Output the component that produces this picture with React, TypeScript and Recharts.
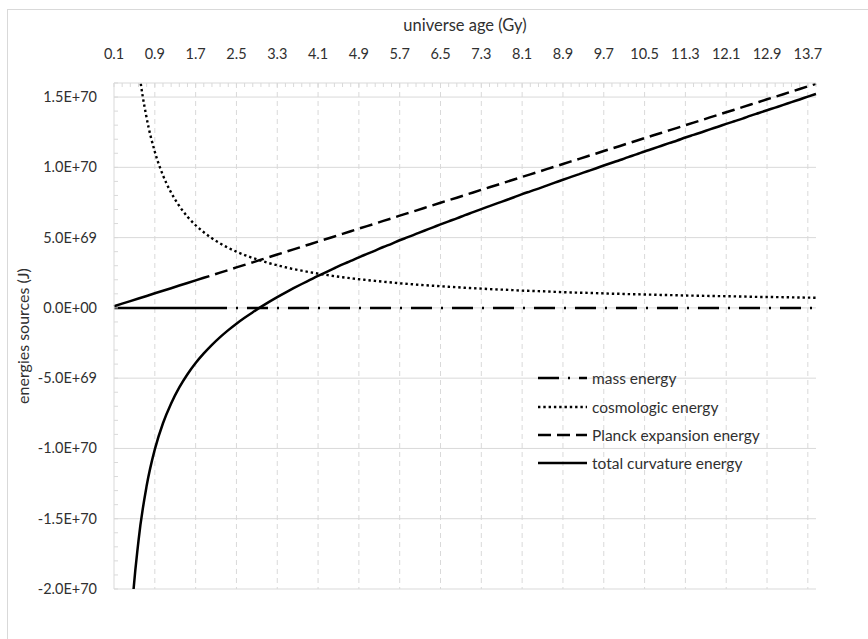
import React from 'react';
import { LineChart, Line, XAxis, YAxis, ReferenceLine } from 'recharts';

// universe age categories (Gy)
const ages = [
    0.1, 0.26, 0.42, 0.58, 0.74, 0.9, 1.06, 1.22, 1.38, 1.54,
    1.7, 1.86, 2.02, 2.18, 2.34, 2.5, 2.66, 2.82, 2.98, 3.14,
    3.3, 3.46, 3.62, 3.78, 3.94, 4.1, 4.26, 4.42, 4.58, 4.74,
    4.9, 5.06, 5.22, 5.38, 5.54, 5.7, 5.86, 6.02, 6.18, 6.34,
    6.5, 6.66, 6.82, 6.98, 7.14, 7.3, 7.46, 7.62, 7.78, 7.94,
    8.1, 8.26, 8.42, 8.58, 8.74, 8.9, 9.06, 9.22, 9.38, 9.54,
    9.7, 9.86, 10.02, 10.18, 10.34, 10.5, 10.66, 10.82, 10.98, 11.14,
    11.3, 11.46, 11.62, 11.78, 11.94, 12.1, 12.26, 12.42, 12.58, 12.74,
    12.9, 13.06, 13.22, 13.38, 13.54, 13.7, 13.86,
];

const ageLabels = [
    '0.1', '0.9', '1.7', '2.5', '3.3', '4.1', '4.9', '5.7', '6.5',
    '7.3', '8.1', '8.9', '9.7', '10.5', '11.3', '12.1', '12.9', '13.7',
];

// energies in units of 1E+69 J
const massEnergy = [
    0, 0, 0, 0, 0, 0, 0, 0, 0, 0,
    0, 0, 0, 0, 0, 0, 0, 0, 0, 0,
    0, 0, 0, 0, 0, 0, 0, 0, 0, 0,
    0, 0, 0, 0, 0, 0, 0, 0, 0, 0,
    0, 0, 0, 0, 0, 0, 0, 0, 0, 0,
    0, 0, 0, 0, 0, 0, 0, 0, 0, 0,
    0, 0, 0, 0, 0, 0, 0, 0, 0, 0,
    0, 0, 0, 0, 0, 0, 0, 0, 0, 0,
    0, 0, 0, 0, 0, 0, 0,
];

const cosmologicEnergy = [
    100.0, 38.46, 23.81, 17.24, 13.51, 11.11, 9.43, 8.2, 7.25, 6.49,
    5.88, 5.38, 4.95, 4.59, 4.27, 4.0, 3.76, 3.55, 3.36, 3.18,
    3.03, 2.89, 2.76, 2.65, 2.54, 2.44, 2.35, 2.26, 2.18, 2.11,
    2.04, 1.98, 1.92, 1.86, 1.81, 1.75, 1.71, 1.66, 1.62, 1.58,
    1.54, 1.5, 1.47, 1.43, 1.4, 1.37, 1.34, 1.31, 1.29, 1.26,
    1.23, 1.21, 1.19, 1.17, 1.14, 1.12, 1.1, 1.08, 1.07, 1.05,
    1.03, 1.01, 1.0, 0.98, 0.97, 0.95, 0.94, 0.92, 0.91, 0.9,
    0.88, 0.87, 0.86, 0.85, 0.84, 0.83, 0.82, 0.81, 0.79, 0.78,
    0.78, 0.77, 0.76, 0.75, 0.74, 0.73, 0.72,
];

const planckEnergy = [
    0.12, 0.3, 0.48, 0.67, 0.85, 1.04, 1.22, 1.4, 1.59, 1.77,
    1.96, 2.14, 2.32, 2.51, 2.69, 2.88, 3.06, 3.24, 3.43, 3.61,
    3.8, 3.98, 4.16, 4.35, 4.53, 4.72, 4.9, 5.08, 5.27, 5.45,
    5.64, 5.82, 6.0, 6.19, 6.37, 6.56, 6.74, 6.92, 7.11, 7.29,
    7.48, 7.66, 7.84, 8.03, 8.21, 8.4, 8.58, 8.76, 8.95, 9.13,
    9.32, 9.5, 9.68, 9.87, 10.05, 10.24, 10.42, 10.6, 10.79, 10.97,
    11.16, 11.34, 11.52, 11.71, 11.89, 12.08, 12.26, 12.44, 12.63, 12.81,
    13.0, 13.18, 13.36, 13.55, 13.73, 13.92, 14.1, 14.28, 14.47, 14.65,
    14.84, 15.02, 15.2, 15.39, 15.57, 15.76, 15.94,
];

const curvatureEnergy = [
    -99.88, -38.16, -23.33, -16.57, -12.66, -10.07, -8.21, -6.8, -5.66, -4.72,
    -3.92, -3.24, -2.63, -2.08, -1.58, -1.12, -0.7, -0.31, 0.07, 0.43,
    0.77, 1.09, 1.4, 1.7, 1.99, 2.28, 2.55, 2.82, 3.09, 3.34,
    3.6, 3.84, 4.08, 4.33, 4.56, 4.81, 5.03, 5.26, 5.49, 5.71,
    5.94, 6.16, 6.37, 6.6, 6.81, 7.03, 7.24, 7.45, 7.66, 7.87,
    8.09, 8.29, 8.49, 8.7, 8.91, 9.12, 9.32, 9.52, 9.72, 9.92,
    10.13, 10.33, 10.52, 10.73, 10.92, 11.13, 11.32, 11.52, 11.72, 11.91,
    12.12, 12.31, 12.5, 12.7, 12.89, 13.09, 13.28, 13.47, 13.68, 13.87,
    14.06, 14.25, 14.44, 14.64, 14.83, 15.03, 15.22,
];

const E69 = 1e69;
const energyTicks = [-2e70, -1.5e70, -1e70, -5e69, 0, 5e69, 1e70, 1.5e70];

const data = ages.map((age, i) => ({
    age,
    mass: massEnergy[i] * E69,
    cosmologic: cosmologicEnergy[i] * E69,
    planck: planckEnergy[i] * E69,
    curvature: curvatureEnergy[i] * E69,
}));

// minor ticks every 1E+69 on the value axis
const minorTicks: number[] = [];
for (let i = -20; i <= 16; i++) minorTicks.push(i * E69);

const FONT = 'Lato, "Open Sans", sans-serif';
const TEXT = '#303030';
const GRID = '#d9d9d9';

const sci = (v: number) => {
    if (Math.abs(v) < 1e60) return '0.0E+00';
    const [m, e] = v.toExponential(1).split('e');
    const sign = e[0] === '-' ? '-' : '+';
    return `${m}E${sign}${e.replace(/[+-]/, '').padStart(2, '0')}`;
};

// solid run at the start of the path, then a repeating pattern (pattern begins with a gap)
const leadDash = (lead: number, pattern: number[], span = 1600) => {
    const out = [lead];
    let total = lead;
    while (total < span) {
        for (const p of pattern) {
            out.push(p);
            total += p;
        }
    }
    return out.join(' ');
};

const AgeTick = (props: any) => {
    const { x, y, index } = props;
    const label = index % 5 === 0 ? ageLabels[index / 5] : null;
    return (
        <g>
            <line x1={x} x2={x} y1={y} y2={y + 4} stroke={GRID} strokeWidth={1} />
            {label && (
                <text x={x} y={y - 24} textAnchor="middle" fontSize={14.5} fontFamily={FONT} fill={TEXT}>
                    {label}
                </text>
            )}
        </g>
    );
};

const EnergyTick = (props: any) => {
    const { x, y, payload } = props;
    const major = Math.round(payload.value / E69) % 5 === 0;
    return (
        <g>
            <line x1={x} x2={x + 4} y1={y} y2={y} stroke={GRID} strokeWidth={1} />
            {major && (
                <text x={x - 17} y={y + 5} textAnchor="end" fontSize={14.5} fontFamily={FONT} fill={TEXT}>
                    {sci(payload.value)}
                </text>
            )}
        </g>
    );
};

const legendItems = [
    { name: 'mass energy', dash: '21 9 2 9' },
    { name: 'cosmologic energy', dash: '2.4 2.9' },
    { name: 'Planck expansion energy', dash: '13 6' },
    { name: 'total curvature energy', dash: undefined },
];

export default function App() {
    return (
        <div style={{ position: 'absolute', left: 0, top: 0, width: 868, height: 639, overflow: 'hidden', background: '#fff' }}>
            <div style={{ position: 'absolute', left: 7, top: 9, width: 900, height: 700, border: `1px solid ${GRID}` }} />
            <div style={{ position: 'absolute', left: 0, top: 0 }}>
                <LineChart width={868} height={639} data={data} margin={{ top: 53, right: 52, bottom: 50, left: 54 }}>
                    <XAxis
                        dataKey="age"
                        orientation="top"
                        interval={0}
                        height={30}
                        tickSize={0}
                        tickMargin={0}
                        tickLine={false}
                        axisLine={{ stroke: GRID }}
                        tick={<AgeTick />}
                    />
                    <YAxis
                        type="number"
                        domain={[-2e70, 1.6e70]}
                        ticks={minorTicks}
                        interval={0}
                        allowDataOverflow
                        width={60}
                        tickSize={0}
                        tickMargin={0}
                        tickLine={false}
                        axisLine={{ stroke: GRID }}
                        tick={<EnergyTick />}
                    />
                    {energyTicks.map((v) => (
                        <ReferenceLine key={`h-${v}`} y={v} stroke={GRID} strokeWidth={1} />
                    ))}
                    {ages.filter((_, i) => i % 5 === 0 && i > 0).map((a) => (
                        <ReferenceLine key={`v-${a}`} x={a} stroke={GRID} strokeWidth={1} strokeDasharray="5 4" />
                    ))}
                    <Line
                        dataKey="mass"
                        stroke="#000"
                        strokeWidth={2.5}
                        strokeDasharray={leadDash(113, [9, 2, 9, 21])}
                        dot={false}
                        isAnimationActive={false}
                    />
                    <Line
                        dataKey="cosmologic"
                        type="monotone"
                        stroke="#000"
                        strokeWidth={2.4}
                        strokeDasharray="2.4 2.9"
                        dot={false}
                        isAnimationActive={false}
                    />
                    <Line
                        dataKey="planck"
                        stroke="#000"
                        strokeWidth={2.5}
                        strokeDasharray={leadDash(100, [6, 13])}
                        dot={false}
                        isAnimationActive={false}
                    />
                    <Line
                        dataKey="curvature"
                        type="monotone"
                        stroke="#000"
                        strokeWidth={2.5}
                        dot={false}
                        isAnimationActive={false}
                    />
                </LineChart>
            </div>
            <div style={{ position: 'absolute', left: 315, top: 15, width: 300, textAlign: 'center', fontFamily: FONT, fontSize: 16.5, lineHeight: '20px', color: TEXT }}>
                universe age (Gy)
            </div>
            <div
                style={{
                    position: 'absolute',
                    left: 23 - 100,
                    top: 336 - 10,
                    width: 200,
                    textAlign: 'center',
                    fontFamily: FONT,
                    fontSize: 16,
                    lineHeight: '20px',
                    color: TEXT,
                    transform: 'rotate(-90deg)',
                }}
            >
                energies sources (J)
            </div>
            <div style={{ position: 'absolute', left: 538, top: 364, fontFamily: FONT, fontSize: 15.5, color: TEXT }}>
                {legendItems.map((it) => (
                    <div key={it.name} style={{ display: 'flex', alignItems: 'center', height: 28.4 }}>
                        <svg width={50} height={28} style={{ display: 'block' }}>
                            <line x1={0} x2={49} y1={14} y2={14} stroke="#000" strokeWidth={2.5} strokeDasharray={it.dash} />
                        </svg>
                        <span style={{ marginLeft: 4, lineHeight: '18px' }}>{it.name}</span>
                    </div>
                ))}
            </div>
        </div>
    );
}
